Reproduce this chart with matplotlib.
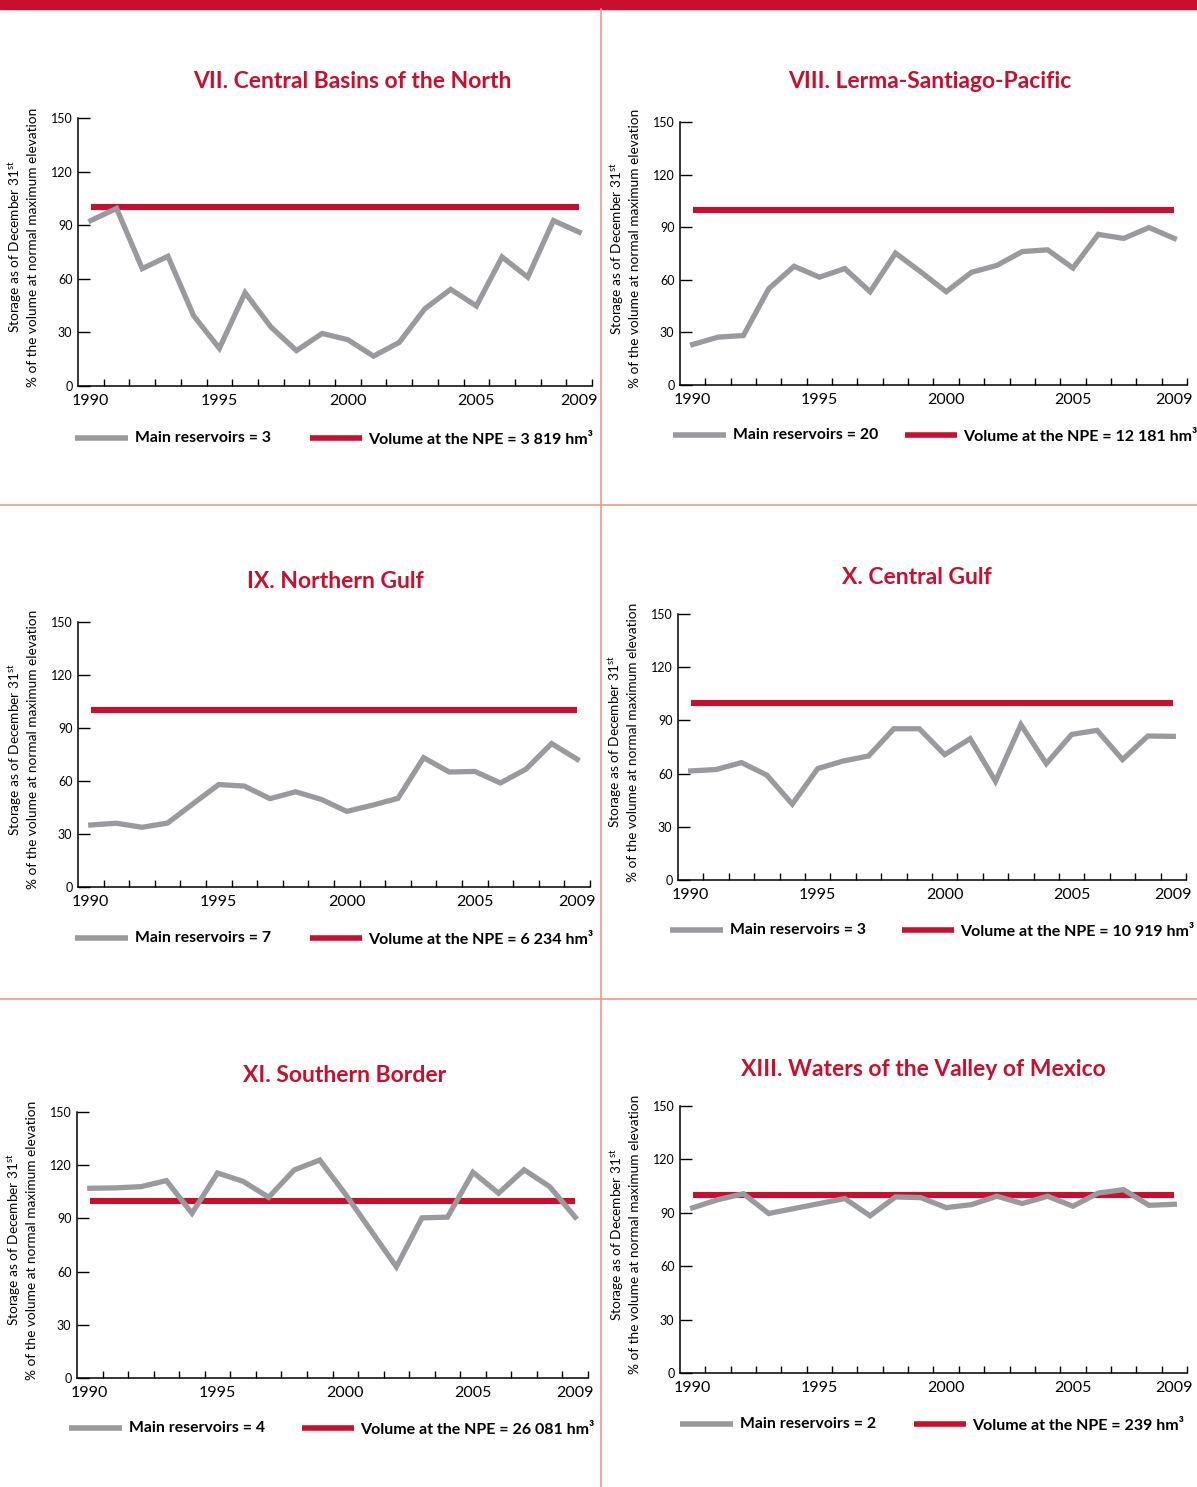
import numpy as np
import matplotlib
matplotlib.use('Agg')
import matplotlib.pyplot as plt
from matplotlib.lines import Line2D

# Cores usadas no documento original
vermelho = '#C8102E'
cinza = '#9A9A9E'
divisoria = '#E9998D'

plt.rcParams['font.family'] = ['Lato', 'DejaVu Sans']
plt.rcParams['mathtext.fontset'] = 'custom'
plt.rcParams['mathtext.rm'] = 'Lato'
plt.rcParams['mathtext.it'] = 'Lato'

# Dados (anos e armazenamento em % do volume no NAMO)
anos = list(range(1990, 2010))
rotulos_anos = [1990, 1995, 2000, 2005, 2009]

titulos = ['VII. Central Basins of the North',
           'VIII. Lerma-Santiago-Pacific',
           'IX. Northern Gulf',
           'X. Central Gulf',
           'XI. Southern Border',
           'XIII. Waters of the Valley of Mexico']

n_presas = [3, 20, 7, 3, 4, 2]
volume_npe = ['3 819', '12 181', '6 234', '10 919', '26 081', '239']
nivel_npe = 100

central_norte = [92.6, 99.4, 65.7, 72.6, 39.3, 21.1, 52.2, 33.1, 19.8, 29.4,
                 25.9, 16.7, 24.4, 43.3, 54.1, 44.8, 72.2, 60.9, 92.6, 86.1]
lerma = [23.1, 27.3, 28.2, 54.9, 67.7, 61.5, 66.4, 53.2, 75.2, 64.5,
         53.2, 64.3, 68.2, 76.1, 77.1, 66.7, 85.9, 83.6, 89.8, 83.6]
golfo_norte = [35.1, 36.1, 33.8, 36.2, 47.2, 58.0, 57.1, 50.0, 53.9, 49.6,
               42.8, 46.3, 50.2, 73.2, 65.1, 65.4, 58.9, 66.7, 81.2, 72.3]
golfo_centro = [61.5, 62.3, 66.2, 59.1, 42.8, 62.8, 67.1, 69.9, 85.3, 85.3,
                70.7, 79.7, 55.7, 87.6, 65.6, 82.1, 84.4, 67.9, 81.2, 81.0]
frontera_sur = [107.0, 107.2, 107.9, 111.3, 92.9, 115.6, 110.9, 101.9, 117.3, 122.9,
                103.8, 83.2, 62.7, 90.3, 90.7, 116.0, 104.2, 117.4, 107.9, 90.7]
valle_mexico = [92.8, 97.4, 100.7, 89.6, 92.4, 95.2, 98.0, 88.3, 98.9, 98.5,
                92.9, 94.6, 99.3, 95.2, 99.3, 93.7, 101.1, 103.0, 94.2, 94.8]

series = [central_norte, lerma, golfo_norte, golfo_centro, frontera_sur, valle_mexico]

# Layout em pixels: (x esq, x dir, y topo, y base) de cada eixo
W, H = 1197, 1487
caixas = [(78, 592, 118, 386), (680, 1187, 122, 385),
          (78, 590, 622, 887), (678, 1186, 614, 880),
          (77, 588, 1112, 1378), (680, 1187, 1106, 1373)]
pos_titulo = [(352, 82), (930, 82), (335, 582), (917, 578), (345, 1075), (923, 1069)]
# legenda: (x linha cinza, x linha vermelha, y)
pos_legenda = [(75, 310, 438), (673, 905, 435), (75, 310, 938),
               (670, 902, 930), (69, 302, 1428), (680, 914, 1424)]

fig = plt.figure(figsize=(W / 100, H / 100), dpi=100)

def fx(x):
    return x / W

def fy(y):
    return 1 - y / H

# Barra vermelha no topo e divisórias
fig.add_artist(plt.Rectangle((0, fy(9)), 1, 9 / H, color=vermelho, transform=fig.transFigure))
fig.add_artist(Line2D([fx(601), fx(601)], [0, fy(9)], color=divisoria, lw=1.2, transform=fig.transFigure))
for yl in [505, 999]:
    fig.add_artist(Line2D([0, 1], [fy(yl), fy(yl)], color=divisoria, lw=1.2, transform=fig.transFigure))

x = np.arange(len(anos))

for i in range(6):
    x0, x1, yt, yb = caixas[i]
    ax = fig.add_axes([fx(x0), fy(yb), (x1 - x0) / W, (yb - yt) / H])
    ax.plot(x, [nivel_npe] * len(anos), color=vermelho, lw=4.4, solid_capstyle='butt', zorder=2)
    ax.plot(x, series[i], color=cinza, lw=3.8, solid_joinstyle='miter', zorder=3)
    ax.set_xlim(-0.5, len(anos) - 0.5)
    ax.set_ylim(0, 150)
    ax.set_yticks([0, 30, 60, 90, 120, 150])
    ax.tick_params(axis='y', direction='in', length=8.5, width=1, labelsize=9, pad=4)
    ax.set_xticks([anos.index(a) for a in rotulos_anos])
    ax.set_xticklabels([str(a) for a in rotulos_anos])
    ax.set_xticks(np.arange(0.5, len(anos), 1), minor=True)
    ax.tick_params(axis='x', which='major', length=0, labelsize=11.5, pad=6)
    ax.tick_params(axis='x', which='minor', direction='in', length=5, width=1)
    ax.spines['top'].set_visible(False)
    ax.spines['right'].set_visible(False)
    ax.spines['left'].set_linewidth(1.1)
    ax.spines['bottom'].set_linewidth(1.1)

    # Rótulo do eixo y (duas linhas)
    ymeio = fy((yt + yb) / 2 - 5)
    fig.text(fx(x0 - 63), ymeio, 'Storage as of December 31$^{\\mathrm{st}}$',
             rotation=90, ha='center', va='center', fontsize=9.8)
    fig.text(fx(x0 - 45), ymeio, '% of the volume at normal maximum elevation',
             rotation=90, ha='center', va='center', fontsize=9.8)

    # Título
    tx, ty = pos_titulo[i]
    fig.text(fx(tx), fy(ty), titulos[i], ha='center', va='center',
             fontsize=16.5, fontweight='bold', color=vermelho)

    # Legenda
    gx, rx, ly = pos_legenda[i]
    fig.add_artist(Line2D([fx(gx), fx(gx + 53)], [fy(ly), fy(ly)], color=cinza, lw=4,
                          solid_capstyle='butt', transform=fig.transFigure))
    fig.text(fx(gx + 60), fy(ly), 'Main reservoirs = %d' % n_presas[i],
             ha='left', va='center', fontsize=11.3, fontweight='bold')
    fig.add_artist(Line2D([fx(rx), fx(rx + 52)], [fy(ly), fy(ly)], color=vermelho, lw=4,
                          solid_capstyle='butt', transform=fig.transFigure))
    fig.text(fx(rx + 58), fy(ly + 2), 'Volume at the NPE = %s hm³' % volume_npe[i],
             ha='left', va='center', fontsize=11.5, fontweight='bold')

plt.savefig('out.png', dpi=100)
